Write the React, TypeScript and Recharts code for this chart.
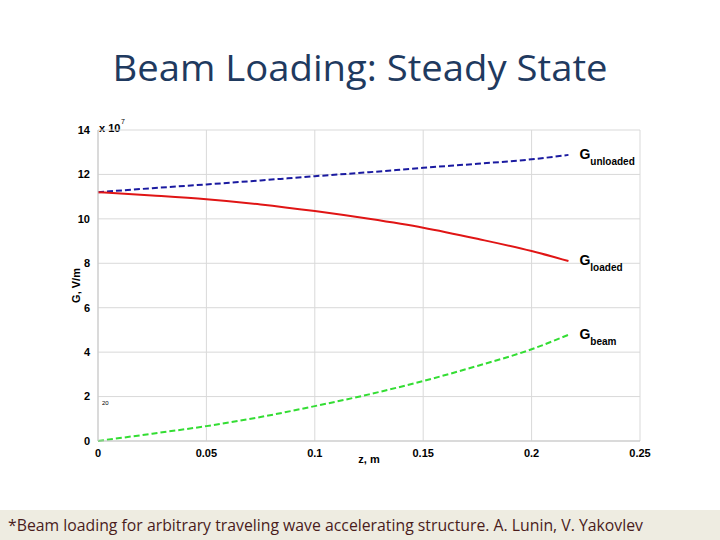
import React from "react";
import { LineChart, Line, XAxis, YAxis, CartesianGrid, Label } from "recharts";

const zValues = [0, 0.025, 0.05, 0.075, 0.1, 0.125, 0.15, 0.175, 0.2, 0.217];
const gUnloaded = [11.2, 11.38, 11.55, 11.73, 11.92, 12.1, 12.3, 12.48, 12.68, 12.88];
const gLoaded = [11.2, 11.05, 10.88, 10.65, 10.35, 10.0, 9.6, 9.1, 8.55, 8.1];
const gBeam = [0, 0.33, 0.67, 1.08, 1.57, 2.1, 2.7, 3.38, 4.13, 4.78];
const xTicks = [0, 0.05, 0.1, 0.15, 0.2, 0.25];
const yTicks = [0, 2, 4, 6, 8, 10, 12, 14];
const seriesNames = ["unloaded", "loaded", "beam"];

const data = zValues.map((z, i) => ({
  z,
  unloaded: gUnloaded[i],
  loaded: gLoaded[i],
  beam: gBeam[i],
}));

const lastIndex = zValues.length - 1;

const makeLabel = (sub: string) => (props: any) => {
  const { x, y, index } = props;
  if (index !== lastIndex) return null;
  return (
    <text
      x={x + 11}
      y={y + 4}
      fontFamily="Liberation Sans, Arial, sans-serif"
      fontWeight="bold"
      fill="#000"
    >
      <tspan fontSize={14}>G</tspan>
      <tspan fontSize={10} dy={6}>{sub}</tspan>
    </text>
  );
};

const tickFont = {
  fontFamily: "Liberation Sans, Arial, sans-serif",
  fontSize: 11,
  fontWeight: "bold" as const,
  fill: "#000",
};

export default function App() {
  return (
    <div style={{ position: "absolute", left: 0, top: 0, width: 720, height: 540, background: "#fff", overflow: "hidden" }}>
      <svg width={720} height={540} style={{ position: "absolute", left: 0, top: 0 }}>
        <text
          x={360}
          y={81}
          textAnchor="middle"
          fontFamily="Open Sans, Lato, sans-serif"
          fontSize={36}
          fill="#1f3a5f"
          textLength={495}
          lengthAdjust="spacingAndGlyphs"
        >
          Beam Loading: Steady State
        </text>
        <rect x={0} y={510} width={720} height={30} fill="#eeece1" />
        <text
          x={8}
          y={531}
          fontFamily="Open Sans, Lato, sans-serif"
          fontSize={17}
          fill="#4a1c1c"
          textLength={635}
          lengthAdjust="spacingAndGlyphs"
        >
          *Beam loading for arbitrary traveling wave accelerating structure. A.  Lunin, V. Yakovlev
        </text>
        <text x={99} y={132} fontFamily="Liberation Sans, Arial, sans-serif" fontSize={11} fontWeight="bold" fill="#000">
          x 10
        </text>
        <text x={121} y={124} fontFamily="Liberation Sans, Arial, sans-serif" fontSize={7} fill="#000">
          7
        </text>
        <text x={102} y={405} fontFamily="Liberation Sans, Arial, sans-serif" fontSize={6} fill="#000">
          20
        </text>
      </svg>
      <div style={{ position: "absolute", left: 0, top: 0 }}>
        <LineChart
          width={720}
          height={540}
          data={data}
          margin={{ top: 130, right: 80, bottom: 59, left: 38 }}
        >
          <CartesianGrid stroke="#d9d9d9" strokeWidth={1} />
          <XAxis
            dataKey="z"
            type="number"
            domain={[0, 0.25]}
            ticks={xTicks}
            tickLine={false}
            axisLine={{ stroke: "#c8c8c8" }}
            tick={tickFont}
            tickFormatter={(v: number) => String(v)}
            height={40}
            tickMargin={2}
          >
            <Label value="z, m" position="insideBottom" offset={18} style={{ ...tickFont }} />
          </XAxis>
          <YAxis
            type="number"
            domain={[0, 14]}
            ticks={yTicks}
            tickLine={false}
            axisLine={{ stroke: "#c8c8c8" }}
            tick={tickFont}
            width={60}
            tickMargin={2}
          >
            <Label value="G, V/m" angle={-90} position="insideLeft" offset={38} style={{ ...tickFont, textAnchor: "middle" }} />
          </YAxis>
          <Line
            dataKey={seriesNames[0]}
            stroke="#1a1aa0"
            strokeWidth={2}
            strokeDasharray="6 3"
            dot={false}
            isAnimationActive={false}
            type="monotone"
            label={makeLabel("unloaded")}
          />
          <Line
            dataKey={seriesNames[1]}
            stroke="#e01515"
            strokeWidth={2}
            dot={false}
            isAnimationActive={false}
            type="monotone"
            label={makeLabel("loaded")}
          />
          <Line
            dataKey={seriesNames[2]}
            stroke="#33dd33"
            strokeWidth={2}
            strokeDasharray="6 3"
            dot={false}
            isAnimationActive={false}
            type="monotone"
            label={makeLabel("beam")}
          />
        </LineChart>
      </div>
    </div>
  );
}
